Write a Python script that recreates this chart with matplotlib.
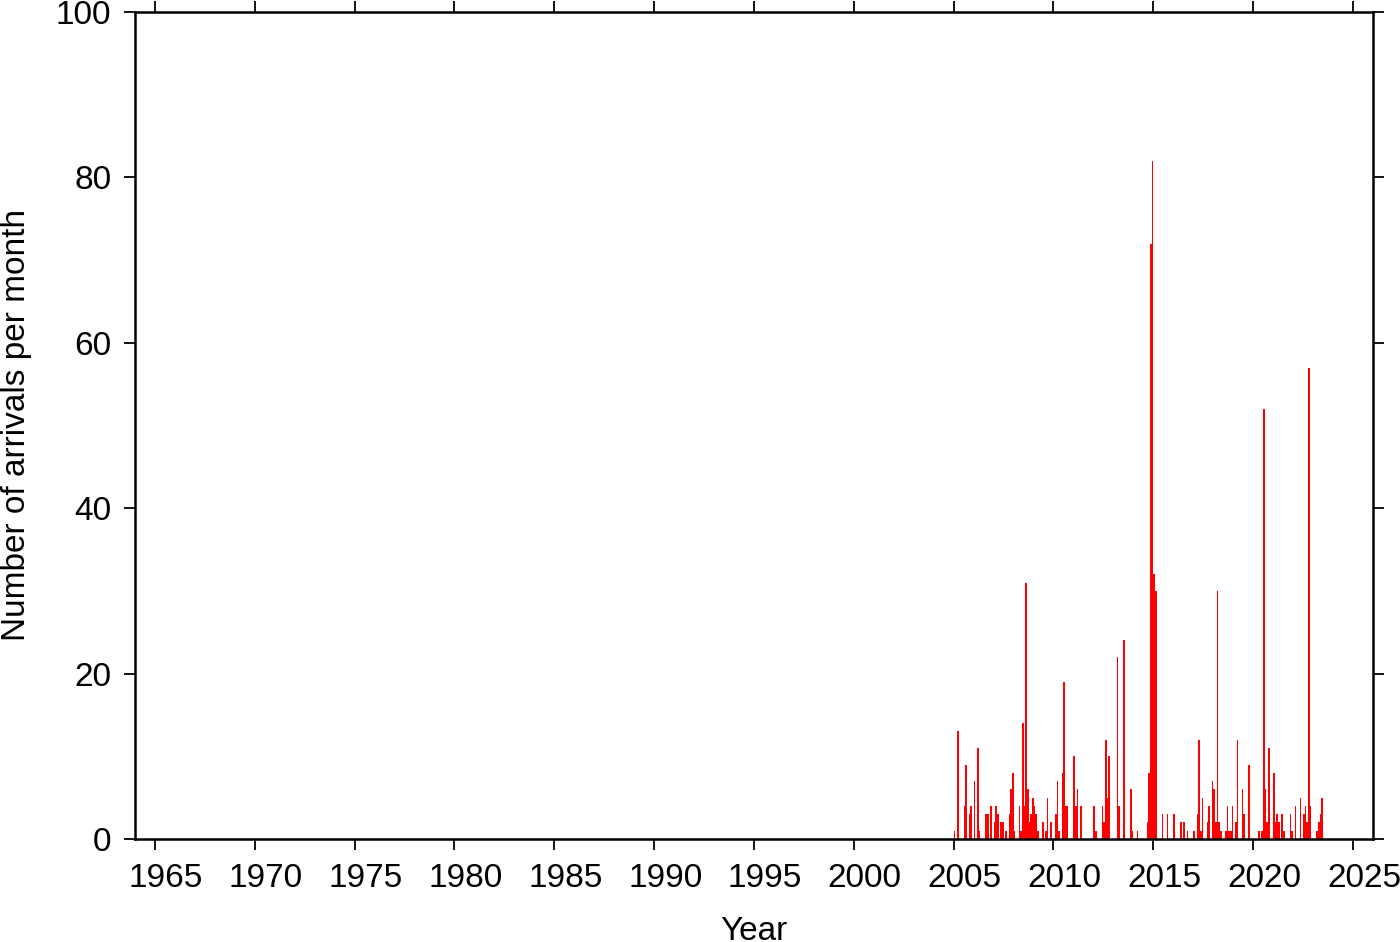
import numpy as np
import matplotlib
matplotlib.use("Agg")
import matplotlib.pyplot as plt
from matplotlib.transforms import ScaledTranslation

plt.rcParams['font.family'] = ['Liberation Sans', 'DejaVu Sans']

# months counted from January 2005, and arrivals in that month
month_index = np.array([
    0, 2, 6, 7, 9, 10, 12, 14, 15, 19, 20, 22, 24, 25, 26, 28, 29, 31, 33, 34,
    35, 36, 39, 40, 41, 42, 43, 44, 45, 46, 47, 48, 49, 50,
    53, 55, 56, 58, 61, 62, 63, 65, 66, 67, 68, 72, 73, 74, 76, 84, 85, 89,
    90, 91, 92, 93, 98, 99, 102, 106, 107, 110,
    116, 117, 118, 119, 120, 121, 125, 128, 132, 136, 138, 140, 144, 146, 147,
    148, 149, 152, 153, 155, 156, 157, 158, 159, 160, 163, 164, 165, 166, 167,
    169, 170,
    173, 174, 177, 183, 185, 186, 187, 188, 189, 192, 193, 194, 195, 197, 198,
    202, 203, 205, 208, 210, 211, 212, 213, 214, 218, 219, 220, 221])
counts = np.array([
    1, 13, 4, 9, 3, 4, 7, 11, 1, 3, 3, 4, 2, 4, 3, 2, 2, 1, 3, 6,
    8, 1, 4, 1, 14, 4, 31, 6, 2, 3, 5, 4, 3, 1,
    2, 1, 5, 2, 3, 7, 1, 8, 19, 4, 4, 10, 4, 6, 4, 4, 1, 4,
    2, 12, 5, 10, 22, 4, 24, 6, 1, 1,
    2, 8, 72, 82, 32, 30, 3, 3, 3, 2, 2, 1, 1, 3, 12,
    1, 5, 2, 4, 7, 6, 2, 30, 2, 1, 1, 4, 1, 1, 4,
    2, 12,
    6, 3, 9, 1, 1, 52, 6, 2, 11, 8, 2, 3, 2, 3, 1,
    3, 1, 4, 5, 3, 4, 2, 57, 4, 1, 2, 3, 5])

year_ticks = np.arange(1965, 2026, 5)
count_ticks = [0, 20, 40, 60, 80, 100]

start_year = 2005
x = start_year + month_index / 12.0

fig = plt.figure(figsize=(14, 9.42), dpi=100)
ax = fig.add_axes([0.0964, 0.1094, 0.8843, 0.8779])

ax.bar(x, counts, width=1/12, align='edge', color='red', linewidth=0)

ax.set_xlim(1964, 2026)
ax.set_ylim(0, 100)
ax.set_xticks(year_ticks)
ax.set_yticks(count_ticks)

for s in ax.spines.values():
    s.set_linewidth(1.8)

ax.tick_params(direction='out', length=8, width=1.3, labelsize=24, pad=9,
               top=True, right=True)

# year labels sit a little right of their ticks
shift = ScaledTranslation(0.11, 0, fig.dpi_scale_trans)
for lab in ax.get_xticklabels():
    lab.set_transform(lab.get_transform() + shift)

ax.set_xlabel('Year', fontsize=24, labelpad=16)
ax.set_ylabel('Number of arrivals per month', fontsize=24, labelpad=17)

fig.savefig('out.png', dpi=100)
